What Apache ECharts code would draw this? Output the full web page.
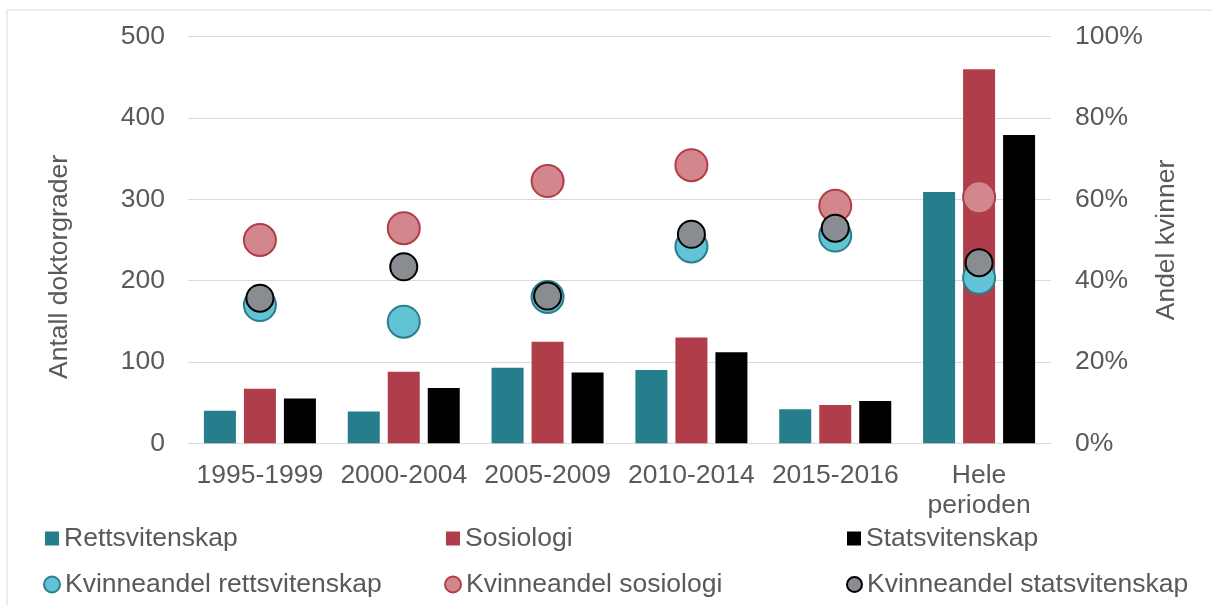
<!DOCTYPE html>
<html><head><meta charset="utf-8">
<script src="https://cdn.jsdelivr.net/npm/echarts@6/dist/echarts.min.js"></script>
<style>html,body{margin:0;padding:0;background:#fff}#c{width:1212px;height:605px}</style>
</head><body><div id="c"></div>
<script>
var categories = ['1995-1999','2000-2004','2005-2009','2010-2014','2015-2016','Hele\nperioden'];
var rett = [40, 39, 93, 90, 42, 309];
var sos = [67, 88, 125, 130, 47, 460];
var stats = [55, 68, 87, 112, 52, 379];
var kvRett = [34.0, 29.9, 36.0, 48.4, 51.1, 40.7];
var kvSos = [50.0, 52.9, 64.5, 68.4, 58.4, 60.5];
var kvStats = [35.7, 43.4, 36.2, 51.4, 52.9, 44.4];
var leftTicks = [0, 100, 200, 300, 400, 500];
var rightTicks = [0, 20, 40, 60, 80, 100];

var F = 'Liberation Sans, Arial, sans-serif';
var FS = 26.5;
var TC = '#595959';
var chart = echarts.init(document.getElementById('c'));
function lg(name, left, top, icon, w, h) {
  return {data: [name], left: left, top: top, icon: icon, itemWidth: w, itemHeight: h, itemGap: 0,
    textStyle: {fontFamily: F, fontSize: FS, color: TC, padding: [0,0,0,0]}, padding: 0, selectedMode: false};
}
chart.setOption({
  animation: false,
  graphic: [{type: 'rect', shape: {x: 7, y: 10, width: 1220, height: 620}, style: {fill: 'none', stroke: '#D9D9D9', lineWidth: 1}, silent: true}],
  grid: {left: 188, right: 161, top: 36.7, bottom: 161.7},
  legend: [
    lg('Rettsvitenskap', 45, 525, 'rect', 14, 14),
    lg('Sosiologi', 446, 525, 'rect', 14, 14),
    lg('Statsvitenskap', 847, 525, 'rect', 14, 14),
    lg('Kvinneandel rettsvitenskap', 43, 571, 'circle', 16, 16),
    lg('Kvinneandel sosiologi', 444, 571, 'circle', 16, 16),
    lg('Kvinneandel statsvitenskap', 846, 571, 'circle', 15, 15)
  ],
  xAxis: {type: 'category', data: categories,
    axisLine: {lineStyle: {color: '#D9D9D9', width: 1}}, axisTick: {show: false},
    axisLabel: {fontFamily: F, fontSize: FS, color: TC, margin: 17, lineHeight: 30, interval: 0}},
  yAxis: [
    {type: 'value', min: leftTicks[0], max: leftTicks[leftTicks.length-1], interval: 100,
      name: 'Antall doktorgrader', nameLocation: 'middle', nameGap: 115, nameRotate: 90,
      nameTextStyle: {fontFamily: F, fontSize: FS, color: TC, padding: [0, 54, 0, 0]},
      axisLabel: {fontFamily: F, fontSize: FS, color: TC, margin: 23},
      splitLine: {lineStyle: {color: '#D9D9D9', width: 1}}, axisLine: {show: false}, axisTick: {show: false}},
    {type: 'value', min: rightTicks[0], max: rightTicks[rightTicks.length-1], interval: 20,
      name: 'Andel kvinner', nameLocation: 'middle', nameGap: 102, nameRotate: 90,
      nameTextStyle: {fontFamily: F, fontSize: FS, color: TC},
      axisLabel: {fontFamily: F, fontSize: FS, color: TC, margin: 24, formatter: '{value}%'},
      splitLine: {show: false}, axisLine: {show: false}, axisTick: {show: false}}
  ],
  series: [
    {name: 'Rettsvitenskap', type: 'bar', data: rett, barWidth: 32, barGap: '25%', itemStyle: {color: '#267D8C'}, z: 2},
    {name: 'Sosiologi', type: 'bar', data: sos, barWidth: 32, barGap: '25%', itemStyle: {color: '#B03E4A'}, z: 2},
    {name: 'Statsvitenskap', type: 'bar', data: stats, barWidth: 32, barGap: '25%', itemStyle: {color: '#000000'}, z: 2},
    {name: 'Kvinneandel rettsvitenskap', type: 'scatter', yAxisIndex: 1, data: kvRett, symbolSize: 32,
      itemStyle: {color: '#62C3D5', borderColor: '#2A7E8C', borderWidth: 2, opacity: 1}, z: 3},
    {name: 'Kvinneandel sosiologi', type: 'scatter', yAxisIndex: 1, data: kvSos, symbolSize: 32,
      itemStyle: {color: '#D4868D', borderColor: '#B03E4A', borderWidth: 2, opacity: 1}, z: 4},
    {name: 'Kvinneandel statsvitenskap', type: 'scatter', yAxisIndex: 1, data: kvStats, symbolSize: 27,
      itemStyle: {color: '#898C90', borderColor: '#000000', borderWidth: 2, opacity: 1}, z: 5}
  ]
});
</script></body></html>
